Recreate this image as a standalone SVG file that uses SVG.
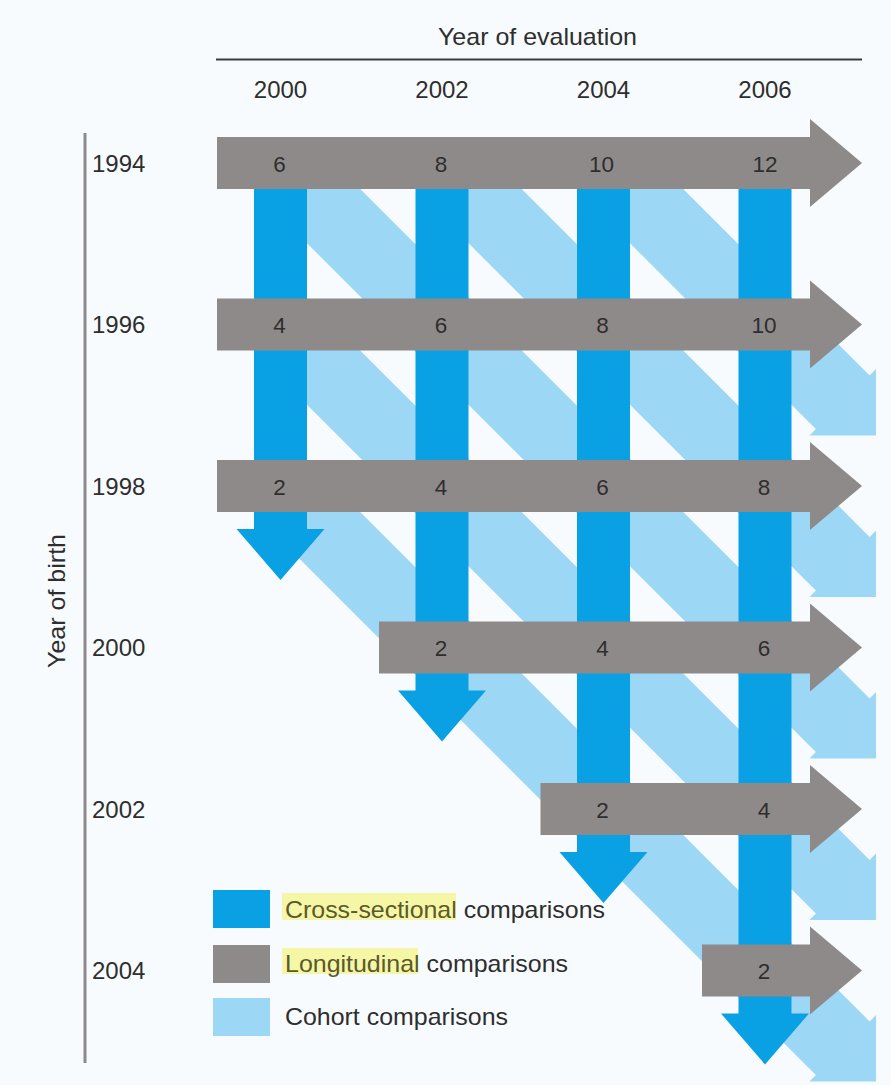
<svg xmlns="http://www.w3.org/2000/svg" width="891" height="1085" viewBox="0 0 891 1085">
  <style>
    .t { font-family: "Liberation Sans", Arial, sans-serif; fill: #2e2e2e; }
    .lab { font-size: 24px; }
    .num { font-size: 22.5px; text-anchor: middle; }
    .col { font-size: 24px; text-anchor: middle; }
    .hl { fill: #5a5a2c; }
    .cohort { fill: #9dd7f6; }
    .cross { fill: #0aa0e4; }
    .longi { fill: #8f8a8a; }
  </style>
  <rect x="0" y="0" width="891" height="1085" fill="#f7fbfd"/>

  <!-- Axes -->
  <g id="axes">
    <line x1="216" y1="59.5" x2="862" y2="59.5" stroke="#3a3a3a" stroke-width="2"/>
    <line x1="85" y1="133" x2="85" y2="1063" stroke="#8a8a8a" stroke-width="3"/>
    <text class="t lab" x="537.5" y="45" text-anchor="middle" textLength="199" lengthAdjust="spacingAndGlyphs">Year of evaluation</text>
    <text class="t col" x="280.5" y="98">2000</text>
    <text class="t col" x="442" y="98">2002</text>
    <text class="t col" x="603.5" y="98">2004</text>
    <text class="t col" x="765" y="98">2006</text>
    <text class="t lab" x="0" y="0" text-anchor="middle" transform="translate(65,601) rotate(-90)" textLength="134" lengthAdjust="spacingAndGlyphs">Year of birth</text>
    <text class="t lab" x="92" y="171.5">1994</text>
    <text class="t lab" x="92" y="333">1996</text>
    <text class="t lab" x="92" y="494.5">1998</text>
    <text class="t lab" x="92" y="656">2000</text>
    <text class="t lab" x="92" y="817.5">2002</text>
    <text class="t lab" x="92" y="979">2004</text>
  </g>

  <!-- Cohort comparisons (diagonal) -->
  <g id="cohort-arrows" class="cohort">
    <polygon id="cohort-age10" points="633.2,139 869.6,375.4 876,369 876,435.5 809.5,435.5 815.9,429.1 579.5,192.7"/>
    <polygon id="cohort-age8" points="471.7,139 869.6,536.9 876,530.5 876,597 809.5,597 815.9,590.6 418,192.7"/>
    <polygon id="cohort-age6" points="310.2,139 869.6,698.4 876,692 876,758.5 809.5,758.5 815.9,752.1 256.5,192.7"/>
    <polygon id="cohort-age4" points="310.2,300.5 869.6,859.9 876,853.5 876,920 809.5,920 815.9,913.6 256.5,354.2"/>
    <polygon id="cohort-age2" points="310.2,462 869.6,1021.4 876,1015 876,1081.5 809.5,1081.5 815.9,1075.1 256.5,515.7"/>
  </g>

  <!-- Cross-sectional comparisons (vertical) -->
  <g id="cross-sectional-arrows" class="cross">
    <path id="cross-2000" d="M254,163 V529 H236.5 L280.5,580 L324.5,529 H307 V163 Z"/>
    <path id="cross-2002" d="M415.5,163 V690.5 H398 L442,741.5 L486,690.5 H468.5 V163 Z"/>
    <path id="cross-2004" d="M577,163 V852 H559.5 L603.5,903 L647.5,852 H630 V163 Z"/>
    <path id="cross-2006" d="M738.5,163 V1013.5 H721 L765,1064.5 L809,1013.5 H791.5 V163 Z"/>
  </g>

  <!-- Longitudinal comparisons (horizontal) -->
  <g id="longitudinal-arrows" class="longi">
    <path id="long-1994" d="M217,137 H810 V119 L862,163 L810,207 V189 H217 Z"/>
    <path id="long-1996" d="M217,298.5 H810 V280.5 L862,324.5 L810,368.5 V350.5 H217 Z"/>
    <path id="long-1998" d="M217,460 H810 V442 L862,486 L810,530 V512 H217 Z"/>
    <path id="long-2000" d="M379,621.5 H810 V603.5 L862,647.5 L810,691.5 V673.5 H379 Z"/>
    <path id="long-2002" d="M540.5,783 H810 V765 L862,809 L810,853 V835 H540.5 Z"/>
    <path id="long-2004" d="M702,944.5 H810 V926.5 L862,970.5 L810,1014.5 V996.5 H702 Z"/>
  </g>

  <!-- Numbers (ages) -->
  <g id="ages">
    <text class="t num" x="279.5" y="171.5">6</text>
    <text class="t num" x="441" y="171.5">8</text>
    <text class="t num" x="601.5" y="171.5">10</text>
    <text class="t num" x="765" y="171.5">12</text>
    <text class="t num" x="279.5" y="333">4</text>
    <text class="t num" x="441" y="333">6</text>
    <text class="t num" x="602.5" y="333">8</text>
    <text class="t num" x="764" y="333">10</text>
    <text class="t num" x="279.5" y="494.5">2</text>
    <text class="t num" x="441" y="494.5">4</text>
    <text class="t num" x="602.5" y="494.5">6</text>
    <text class="t num" x="764" y="494.5">8</text>
    <text class="t num" x="441" y="656">2</text>
    <text class="t num" x="602.5" y="656">4</text>
    <text class="t num" x="764" y="656">6</text>
    <text class="t num" x="602.5" y="817.5">2</text>
    <text class="t num" x="764" y="817.5">4</text>
    <text class="t num" x="764" y="979">2</text>
  </g>

  <!-- Legend -->
  <g id="legend">
    <rect x="213" y="890" width="57" height="38" class="cross"/>
    <rect x="213" y="945" width="57" height="38" class="longi"/>
    <rect x="213" y="998" width="57" height="38" class="cohort"/>
    <rect x="282" y="893" width="174" height="27" fill="#f6f7a6"/>
    <rect x="282" y="948" width="136" height="26" fill="#f6f7a6"/>
    <text class="t lab" x="285" y="918" textLength="320" lengthAdjust="spacingAndGlyphs"><tspan class="hl">Cross-sectional</tspan> comparisons</text>
    <text class="t lab" x="285" y="972" textLength="283" lengthAdjust="spacingAndGlyphs"><tspan class="hl">Longitudinal</tspan> comparisons</text>
    <text class="t lab" x="285" y="1025" textLength="223" lengthAdjust="spacingAndGlyphs">Cohort comparisons</text>
  </g>
</svg>
